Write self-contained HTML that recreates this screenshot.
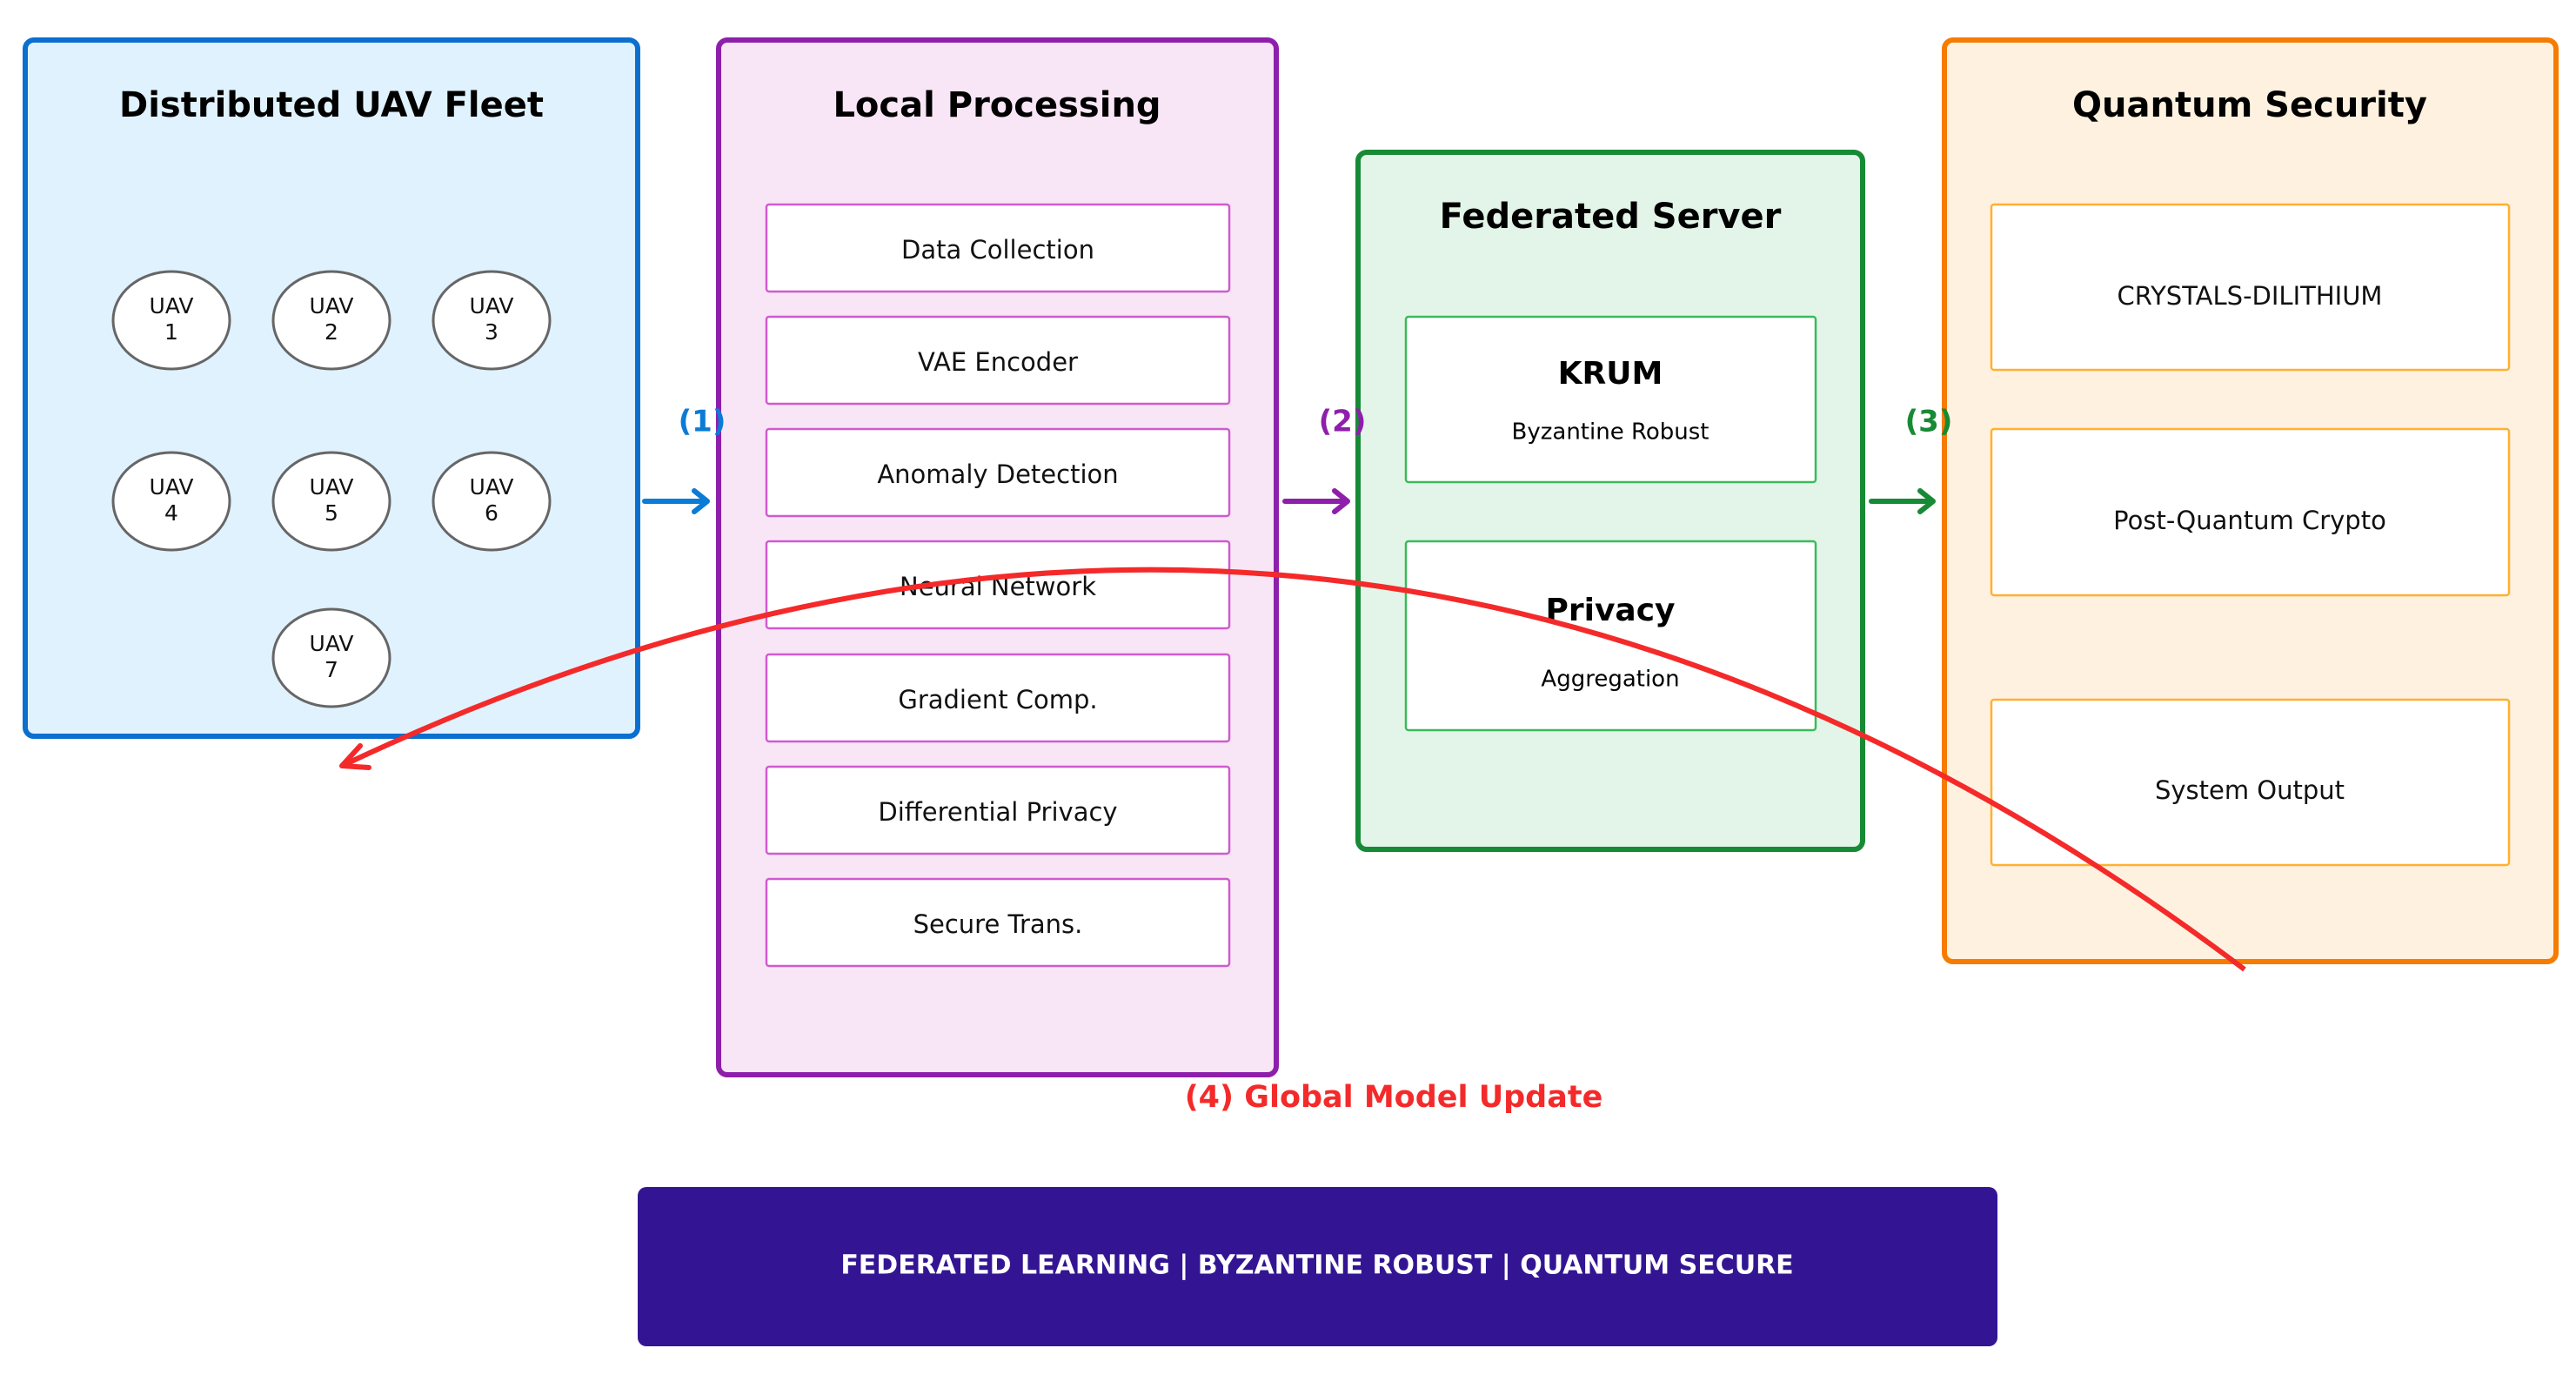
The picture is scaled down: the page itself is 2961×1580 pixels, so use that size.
<!DOCTYPE html>
<html><head><meta charset="utf-8"><style>
html,body{margin:0;padding:0;background:#fff}
svg{display:block}
text{font-family:"DejaVu Sans","Liberation Sans",sans-serif;text-anchor:middle;dominant-baseline:middle}
.t{font-weight:bold;font-size:40px;fill:#000}
.i{font-size:29px;fill:#111}
.u{font-size:25px;fill:#111}
</style></head><body>
<svg width="2961" height="1580" viewBox="0 0 2961 1580">
<defs>
<marker id="ab" markerWidth="10" markerHeight="10" refX="8" refY="5" orient="auto" markerUnits="userSpaceOnUse"></marker>
</defs>
<!-- UAV fleet -->
<rect x="29" y="46" width="704" height="800" rx="10" fill="#e0f2fd" stroke="#0a6fcf" stroke-width="6"/>
<text class="t" x="381" y="123">Distributed UAV Fleet</text>
<g fill="#fff" stroke="#666" stroke-width="3">
<ellipse cx="197" cy="368" rx="67" ry="56"/><ellipse cx="381" cy="368" rx="67" ry="56"/><ellipse cx="565" cy="368" rx="67" ry="56"/>
<ellipse cx="197" cy="576" rx="67" ry="56"/><ellipse cx="381" cy="576" rx="67" ry="56"/><ellipse cx="565" cy="576" rx="67" ry="56"/>
<ellipse cx="381" cy="756" rx="67" ry="56"/>
</g>
<g class="u">
<text class="u" x="197" y="353">UAV</text><text class="u" x="197" y="383">1</text>
<text class="u" x="381" y="353">UAV</text><text class="u" x="381" y="383">2</text>
<text class="u" x="565" y="353">UAV</text><text class="u" x="565" y="383">3</text>
<text class="u" x="197" y="561">UAV</text><text class="u" x="197" y="591">4</text>
<text class="u" x="381" y="561">UAV</text><text class="u" x="381" y="591">5</text>
<text class="u" x="565" y="561">UAV</text><text class="u" x="565" y="591">6</text>
<text class="u" x="381" y="741">UAV</text><text class="u" x="381" y="771">7</text>
</g>
<!-- Local processing -->
<rect x="826" y="46" width="641" height="1189" rx="10" fill="#f8e6f6" stroke="#8e1fab" stroke-width="6"/>
<text class="t" x="1146" y="123">Local Processing</text>
<g fill="#fff" stroke="#d05ad0" stroke-width="2.5">
<rect x="881" y="235" width="532" height="100" rx="3"/>
<rect x="881" y="364" width="532" height="100" rx="3"/>
<rect x="881" y="493" width="532" height="100" rx="3"/>
<rect x="881" y="622" width="532" height="100" rx="3"/>
<rect x="881" y="752" width="532" height="100" rx="3"/>
<rect x="881" y="881" width="532" height="100" rx="3"/>
<rect x="881" y="1010" width="532" height="100" rx="3"/>
</g>
<text class="i" x="1147" y="289">Data Collection</text>
<text class="i" x="1147" y="418">VAE Encoder</text>
<text class="i" x="1147" y="547">Anomaly Detection</text>
<text class="i" x="1147" y="676">Neural Network</text>
<text class="i" x="1147" y="806">Gradient Comp.</text>
<text class="i" x="1147" y="935">Differential Privacy</text>
<text class="i" x="1147" y="1064">Secure Trans.</text>
<!-- Federated server -->
<rect x="1561" y="175" width="580" height="801" rx="10" fill="#e3f5e8" stroke="#178a35" stroke-width="6"/>
<text class="t" x="1851" y="251">Federated Server</text>
<g fill="#fff" stroke="#3cba5c" stroke-width="2.5">
<rect x="1616" y="364" width="471" height="190" rx="3"/>
<rect x="1616" y="622" width="471" height="217" rx="3"/>
</g>
<text x="1851" y="431" style="font-weight:bold;font-size:36px">KRUM</text>
<text x="1851" y="497" style="font-size:26px">Byzantine Robust</text>
<text x="1851" y="703" style="font-weight:bold;font-size:36px">Privacy</text>
<text x="1851" y="781" style="font-size:26px">Aggregation</text>
<!-- Quantum security -->
<rect x="2235" y="46" width="703" height="1059" rx="10" fill="#fff1df" stroke="#f57c00" stroke-width="6"/>
<text class="t" x="2586" y="123">Quantum Security</text>
<g fill="#fff" stroke="#ffb030" stroke-width="2.5">
<rect x="2289" y="235" width="595" height="190" rx="3"/>
<rect x="2289" y="493" width="595" height="191" rx="3"/>
<rect x="2289" y="804" width="595" height="190" rx="3"/>
</g>
<text class="i" x="2586" y="342">CRYSTALS-DILITHIUM</text>
<text class="i" x="2586" y="600">Post-Quantum Crypto</text>
<text class="i" x="2586" y="910">System Output</text>
<!-- arrows -->
<g stroke-width="6" fill="none" stroke-linecap="round" stroke-linejoin="round">
<path d="M741 576 H812 M798 564 L813 576 L798 588" stroke="#0a7bd6"/>
<path d="M1477 576 H1548 M1534 564 L1549 576 L1534 588" stroke="#8e1fab"/>
<path d="M2151 576 H2221 M2207 564 L2222 576 L2207 588" stroke="#178a35"/>
</g>
<text x="807" y="486" style="font-weight:bold;font-size:34px;fill:#0a7bd6">(1)</text>
<text x="1543" y="486" style="font-weight:bold;font-size:34px;fill:#8e1fab">(2)</text>
<text x="2217" y="486" style="font-weight:bold;font-size:34px;fill:#178a35">(3)</text>
<!-- red curve -->
<path d="M2580 1114 Q1546 333 393 880" stroke="#f42a2a" stroke-width="6" fill="none"/>
<path d="M414 857 L393 880 L424 882" stroke="#f42a2a" stroke-width="6" fill="none" stroke-linejoin="round" stroke-linecap="round"/>
<text x="1602" y="1262" style="font-weight:bold;font-size:35px;fill:#f42a2a">(4) Global Model Update</text>
<!-- banner -->
<rect x="733" y="1364" width="1563" height="183" rx="10" fill="#331593"/>
<text x="1514" y="1455" style="font-weight:bold;font-size:30px;fill:#fff">FEDERATED LEARNING | BYZANTINE ROBUST | QUANTUM SECURE</text>
</svg>
</body></html>
